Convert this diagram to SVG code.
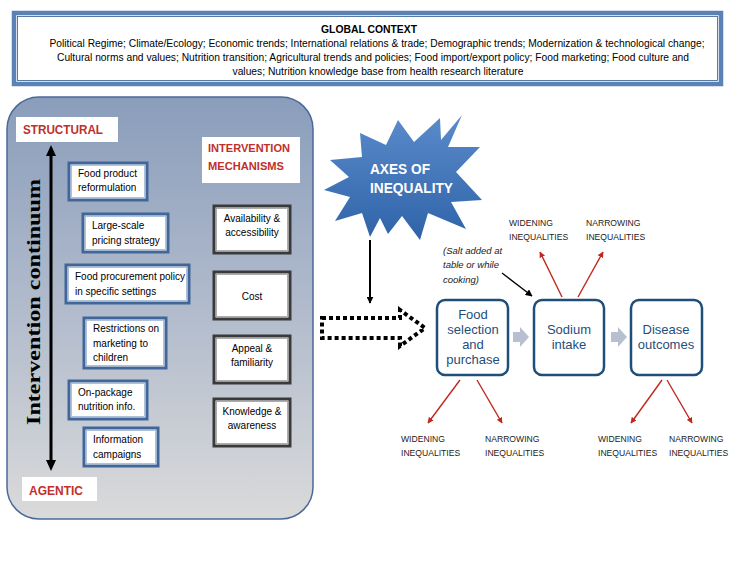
<svg xmlns="http://www.w3.org/2000/svg" width="733" height="566" viewBox="0 0 733 566">
<defs>
<style>
.t{font-family:"Liberation Sans",Arial,sans-serif;fill:#000}
.gc{font-size:10.5px}
.bx{font-size:10px}
.red{font-family:"Liberation Sans",Arial,sans-serif;font-weight:bold;fill:#C0302A}
.ibox{fill:#fff;stroke:#41679A;stroke-width:3}
.ibin{fill:none;stroke:#9DB3D0;stroke-width:0.8}
.mbox{fill:#fff;stroke:#3A3A3A;stroke-width:3}
.mbin{fill:none;stroke:#9A9A9A;stroke-width:0.8}
.fbox{fill:#fff;stroke:#1F4E79;stroke-width:2.5}
.ft{font-family:"Liberation Sans",Arial,sans-serif;font-size:13px;fill:#1F4E79;text-anchor:middle}
.lab{font-family:"Liberation Sans",Arial,sans-serif;font-size:8.6px;fill:#222}
.redline{stroke:#C0281E;stroke-width:1.4;fill:none;marker-end:url(#rh)}
</style>
<linearGradient id="pg" x1="0" y1="0" x2="0" y2="1">
<stop offset="0" stop-color="#8A9DBB"/>
<stop offset="0.5" stop-color="#B1BBCC"/>
<stop offset="1" stop-color="#DADADA"/>
</linearGradient>
<linearGradient id="sg" x1="0" y1="0" x2="0" y2="1">
<stop offset="0" stop-color="#5A8BCB"/>
<stop offset="1" stop-color="#2F63A8"/>
</linearGradient>
<marker id="rh" viewBox="0 0 10 10" refX="9" refY="5" markerWidth="6" markerHeight="6" orient="auto" markerUnits="userSpaceOnUse">
<path d="M0,0 L10,5 L0,10 Z" fill="#C0281E"/>
</marker>
<marker id="bh" viewBox="0 0 10 10" refX="9" refY="5" markerWidth="7" markerHeight="7" orient="auto" markerUnits="userSpaceOnUse">
<path d="M0,0 L10,5 L0,10 Z" fill="#000"/>
</marker>
</defs>
<rect width="733" height="566" fill="#fff"/>

<g id="global-context">
<rect x="14" y="13" width="707" height="71" fill="#fff" stroke="#5A82B4" stroke-width="4.5"/>
<rect x="17.5" y="16.5" width="700" height="64" fill="none" stroke="#2E5A8C" stroke-width="0.8"/>
<text class="t" x="369" y="33" font-size="11px" font-weight="bold" text-anchor="middle" textLength="96" lengthAdjust="spacingAndGlyphs">GLOBAL CONTEXT</text>
<text class="t gc" x="377" y="47" text-anchor="middle" textLength="655" lengthAdjust="spacingAndGlyphs">Political Regime; Climate/Ecology; Economic trends; International relations &amp; trade; Demographic trends; Modernization &amp; technological change;</text>
<text class="t gc" x="373" y="61" text-anchor="middle" textLength="632" lengthAdjust="spacingAndGlyphs">Cultural norms and values; Nutrition transition; Agricultural trends and policies; Food import/export policy; Food marketing; Food culture and</text>
<text class="t gc" x="378" y="75" text-anchor="middle" textLength="291" lengthAdjust="spacingAndGlyphs">values; Nutrition knowledge base from health research literature</text>
</g>

<g id="intervention-panel">
<rect x="7" y="97" width="306" height="422" rx="32" ry="32" fill="url(#pg)" stroke="#4A6A9A" stroke-width="1.5"/>
</g>

<g id="structural">
<rect x="16" y="117" width="102" height="25" fill="#fff"/>
<text class="red" x="23" y="134" font-size="12px" textLength="80" lengthAdjust="spacingAndGlyphs">STRUCTURAL</text>
</g>

<g id="agentic">
<rect x="22" y="477" width="75" height="24" fill="#fff"/>
<text class="red" x="29" y="495" font-size="12px" textLength="54" lengthAdjust="spacingAndGlyphs">AGENTIC</text>
</g>

<g id="continuum">
<line x1="51" y1="153" x2="51" y2="463" stroke="#000" stroke-width="3"/>
<path d="M51,145 L56,156 L46,156 Z" fill="#000"/>
<path d="M51,471 L56,460 L46,460 Z" fill="#000"/>
<text x="0" y="0" transform="translate(40,302) rotate(-90)" font-family="'Liberation Serif','Times New Roman',serif" font-weight="bold" font-size="18px" text-anchor="middle" textLength="246" lengthAdjust="spacingAndGlyphs" fill="#000">Intervention continuum</text>
</g>

<g id="mechanisms-title">
<rect x="202" y="137" width="98" height="46" fill="#fff"/>
<text class="red" x="208" y="152" font-size="11.5px" textLength="82" lengthAdjust="spacingAndGlyphs">INTERVENTION</text>
<text class="red" x="208" y="170" font-size="11.5px" textLength="76" lengthAdjust="spacingAndGlyphs">MECHANISMS</text>
</g>

<g id="i-reformulation">
<rect class="ibox" x="69" y="163" width="78" height="37"/>
<rect class="ibin" x="71.5" y="165.5" width="73" height="32"/>
<text class="t bx" x="78" y="177">Food product</text>
<text class="t bx" x="78" y="191">reformulation</text>
</g>
<g id="i-pricing">
<rect class="ibox" x="83" y="214" width="85" height="38"/>
<rect class="ibin" x="85.5" y="216.5" width="80" height="33"/>
<text class="t bx" x="92" y="229">Large-scale</text>
<text class="t bx" x="92" y="244">pricing strategy</text>
</g>
<g id="i-procurement">
<rect class="ibox" x="66" y="265" width="123" height="38"/>
<rect class="ibin" x="68.5" y="267.5" width="118" height="33"/>
<text class="t bx" x="75" y="280">Food procurement policy</text>
<text class="t bx" x="75" y="295">in specific settings</text>
</g>
<g id="i-restrictions">
<rect class="ibox" x="84" y="318" width="82" height="50"/>
<rect class="ibin" x="86.5" y="320.5" width="77" height="45"/>
<text class="t bx" x="93" y="332">Restrictions on</text>
<text class="t bx" x="93" y="347">marketing to</text>
<text class="t bx" x="93" y="361">children</text>
</g>
<g id="i-onpackage">
<rect class="ibox" x="69" y="381" width="78" height="38"/>
<rect class="ibin" x="71.5" y="383.5" width="73" height="33"/>
<text class="t bx" x="78" y="396">On-package</text>
<text class="t bx" x="78" y="410">nutrition info.</text>
</g>
<g id="i-campaigns">
<rect class="ibox" x="84" y="428" width="74" height="38"/>
<rect class="ibin" x="86.5" y="430.5" width="69" height="33"/>
<text class="t bx" x="93" y="443">Information</text>
<text class="t bx" x="93" y="458">campaigns</text>
</g>

<g id="m-availability">
<rect class="mbox" x="214" y="206" width="76" height="47"/>
<rect class="mbin" x="216.5" y="208.5" width="71" height="42"/>
<text class="t bx" x="252" y="222" text-anchor="middle">Availability &amp;</text>
<text class="t bx" x="252" y="236" text-anchor="middle">accessibility</text>
</g>
<g id="m-cost">
<rect class="mbox" x="214" y="272" width="76" height="47"/>
<rect class="mbin" x="216.5" y="274.5" width="71" height="42"/>
<text class="t bx" x="252" y="300" text-anchor="middle">Cost</text>
</g>
<g id="m-appeal">
<rect class="mbox" x="214" y="336" width="76" height="47"/>
<rect class="mbin" x="216.5" y="338.5" width="71" height="42"/>
<text class="t bx" x="252" y="352" text-anchor="middle">Appeal &amp;</text>
<text class="t bx" x="252" y="366" text-anchor="middle">familiarity</text>
</g>
<g id="m-knowledge">
<rect class="mbox" x="214" y="399" width="76" height="47"/>
<rect class="mbin" x="216.5" y="401.5" width="71" height="42"/>
<text class="t bx" x="252" y="415" text-anchor="middle">Knowledge &amp;</text>
<text class="t bx" x="252" y="429" text-anchor="middle">awareness</text>
</g>

<g id="axes-of-inequality">
<polygon fill="url(#sg)" points="462,115 448,147 480,147 456,172 482,200 451,202 466,229 428,213 420,240 402,216 388,234 380,218 370,237 362,213 335,221 350,197 324,190 349,177 330,160 362,157 360,133 386,145 398,120 414,142 440,118 441,140"/>
<text x="370" y="174" font-family="'Liberation Sans',Arial,sans-serif" font-weight="bold" font-size="14.5px" fill="#fff" textLength="60" lengthAdjust="spacingAndGlyphs">AXES OF</text>
<text x="370" y="193" font-family="'Liberation Sans',Arial,sans-serif" font-weight="bold" font-size="14.5px" fill="#fff" textLength="83" lengthAdjust="spacingAndGlyphs">INEQUALITY</text>
</g>

<g id="food-selection">
<rect class="fbox" x="437" y="300" width="71" height="75" rx="8" ry="8"/>
<text class="ft" x="473" y="319">Food</text>
<text class="ft" x="473" y="334">selection</text>
<text class="ft" x="473" y="349">and</text>
<text class="ft" x="473" y="364">purchase</text>
</g>
<g id="sodium-intake">
<rect class="fbox" x="534" y="300" width="70" height="75" rx="8" ry="8"/>
<text class="ft" x="569" y="334">Sodium</text>
<text class="ft" x="569" y="349">intake</text>
</g>
<g id="disease-outcomes">
<rect class="fbox" x="631" y="300" width="71" height="75" rx="8" ry="8"/>
<text class="ft" x="666" y="334">Disease</text>
<text class="ft" x="666" y="349">outcomes</text>
</g>

<g id="salt-note">
<text x="443" y="254" font-family="'Liberation Sans',Arial,sans-serif" font-style="italic" font-size="9.5px" fill="#222">(Salt added at</text>
<text x="443" y="268" font-family="'Liberation Sans',Arial,sans-serif" font-style="italic" font-size="9.5px" fill="#222">table or while</text>
<text x="443" y="283" font-family="'Liberation Sans',Arial,sans-serif" font-style="italic" font-size="9.5px" fill="#222">cooking)</text>
</g>

<g id="labels">
<text class="lab" x="509" y="226">WIDENING</text>
<text class="lab" x="509" y="240">INEQUALITIES</text>
<text class="lab" x="586" y="226">NARROWING</text>
<text class="lab" x="586" y="240">INEQUALITIES</text>
<text class="lab" x="401" y="442">WIDENING</text>
<text class="lab" x="401" y="456">INEQUALITIES</text>
<text class="lab" x="485" y="442">NARROWING</text>
<text class="lab" x="485" y="456">INEQUALITIES</text>
<text class="lab" x="598" y="442">WIDENING</text>
<text class="lab" x="598" y="456">INEQUALITIES</text>
<text class="lab" x="669" y="442">NARROWING</text>
<text class="lab" x="669" y="456">INEQUALITIES</text>
</g>

<g id="connectors">
<path d="M322,318 H400 V310 L425,328 L400,346 V338 H322 Z" fill="none" stroke="#000" stroke-width="4" stroke-dasharray="4,3"/>
<line x1="370" y1="240" x2="370" y2="303" stroke="#000" stroke-width="2" marker-end="url(#bh)"/>
<line x1="502" y1="273" x2="532" y2="296" stroke="#000" stroke-width="1.3" marker-end="url(#bh)"/>
<polygon points="513,332 520,332 520,327 529,337 520,347 520,342 513,342" fill="#B8C0CF"/>
<polygon points="611,332 618,332 618,327 627,337 618,347 618,342 611,342" fill="#B8C0CF"/>
<line class="redline" x1="562" y1="297" x2="540" y2="252"/>
<line class="redline" x1="578" y1="297" x2="603" y2="252"/>
<line class="redline" x1="460" y1="380" x2="428" y2="423"/>
<line class="redline" x1="477" y1="380" x2="502" y2="423"/>
<line class="redline" x1="662" y1="380" x2="631" y2="423"/>
<line class="redline" x1="667" y1="380" x2="692" y2="423"/>
</g>
</svg>
